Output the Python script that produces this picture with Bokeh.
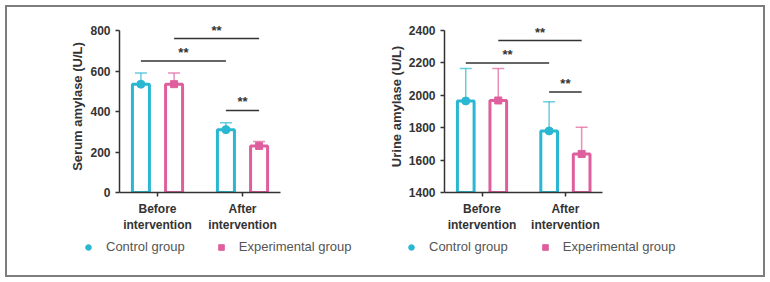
from bokeh.plotting import figure
from bokeh.layouts import row, column
from bokeh.models import (ColumnDataSource, Whisker, TeeHead, Legend, LegendItem,
                          FixedTicker, Range1d)
from bokeh.core.properties import value
from bokeh.embed import file_html
from bokeh.resources import INLINE

# ---------------- data ----------------
categories = ["Before\nintervention", "After\nintervention"]
groups = ["Control group", "Experimental group"]

serum_control = [535, 310]
serum_control_sd = [55, 35]
serum_exp = [535, 230]
serum_exp_sd = [55, 22]
serum_sig_y = [650, 760, 405]

urine_control = [1965, 1780]
urine_control_sd = [200, 180]
urine_exp = [1968, 1638]
urine_exp_sd = [198, 165]
urine_sig_y = [2200, 2338, 2020]

sig_text = ["**", "**", "**"]

CYAN = "#2ab7d2"
PINK = "#df5f9d"
DARK = "#333333"
FONT = "Liberation Sans"


def make_plot(ylabel, ctrl, ctrl_sd, exp, exp_sd, sig_y, ymin, ymax, yend, yticks,
              x_lo, x_hi, width, bl, br):
    p = figure(width=width, height=228, output_backend="svg", toolbar_location=None,
               x_range=Range1d(x_lo, x_hi), y_range=Range1d(ymin, yend),
               min_border_left=bl, min_border_right=br, min_border_top=13,
               min_border_bottom=43, background_fill_color="white",
               border_fill_color="white", outline_line_color=None,
               frame_align=False)
    p.grid.visible = False

    off = 0.195
    xs = list(range(len(categories)))
    xc = [x - off for x in xs]
    xe = [x + off for x in xs]
    bw = 0.2

    src_c = ColumnDataSource(dict(x=xc, top=ctrl, up=[m + s for m, s in zip(ctrl, ctrl_sd)],
                                  lo=[m - s for m, s in zip(ctrl, ctrl_sd)]))
    src_e = ColumnDataSource(dict(x=xe, top=exp, up=[m + s for m, s in zip(exp, exp_sd)],
                                  lo=[m - s for m, s in zip(exp, exp_sd)]))

    p.vbar(x="x", top="top", bottom=ymin, width=bw, source=src_c,
           fill_color="white", line_color=CYAN, line_width=3)
    p.vbar(x="x", top="top", bottom=ymin, width=bw, source=src_e,
           fill_color="white", line_color=PINK, line_width=3)

    for src, col in ((src_c, CYAN), (src_e, PINK)):
        w = Whisker(base="x", upper="up", lower="lo", source=src,
                    line_color=col, line_width=1.5, line_alpha=0.7,
                    upper_head=TeeHead(size=12, line_color=col, line_width=1.5, line_alpha=0.7),
                    lower_head=TeeHead(size=12, line_color=col, line_width=1.5, line_alpha=0.7))
        p.add_layout(w)

    p.scatter(x="x", y="top", source=src_c, marker="circle", size=8,
              fill_color=CYAN, line_color=CYAN)
    p.scatter(x="x", y="top", source=src_e, marker="square", size=7,
              fill_color=PINK, line_color=PINK)

    # significance brackets: control before->after, exp before->after, control vs exp after
    pairs = [(xc[0], xc[1]), (xe[0], xe[1]), (xc[1], xe[1])]
    x0 = [a for a, b in pairs]
    x1 = [b for a, b in pairs]
    p.segment(x0=x0, y0=sig_y, x1=x1, y1=sig_y, line_color=DARK, line_width=1.5)
    p.text(x=[(a + b) / 2 for a, b in pairs], y=sig_y, text=sig_text,
           text_align="center", text_baseline="bottom", y_offset=-1,
           text_font=value(FONT), text_font_size="13px", text_font_style="bold",
           text_color=DARK)

    # axes
    ya = p.yaxis[0]
    ya.bounds = (ymin, ymax)
    ya.ticker = FixedTicker(ticks=yticks)
    ya.axis_label = ylabel
    ya.axis_label_text_font = FONT
    ya.axis_label_text_font_size = "13px"
    ya.axis_label_text_font_style = "bold"
    ya.axis_label_text_color = DARK
    ya.axis_label_standoff = 2
    ya.minor_tick_line_color = None

    xa = p.xaxis[0]
    xa.ticker = FixedTicker(ticks=xs)
    xa.major_label_overrides = {i: c for i, c in enumerate(categories)}
    xa.minor_tick_line_color = None
    xa.major_label_standoff = 5

    for ax in (xa, ya):
        ax.axis_line_color = DARK
        ax.axis_line_width = 1.5
        ax.major_tick_line_color = DARK
        ax.major_tick_line_width = 1.5
        ax.major_tick_out = 4
        ax.major_tick_in = 0
        ax.major_label_text_font = FONT
        ax.major_label_text_font_size = "12px"
        ax.major_label_text_font_style = "bold"
        ax.major_label_text_color = DARK
    return p


def make_legend(width, legend_x, spacing):
    f = figure(width=width, height=40, output_backend="svg", toolbar_location=None,
               x_axis_location=None, y_axis_location=None, min_border=0,
               x_range=Range1d(0, 1), y_range=Range1d(0, 1),
               outline_line_color=None, background_fill_color="white",
               border_fill_color="white", frame_align=False)
    f.grid.visible = False
    # off-range points: only used so that the legend draws its marker glyphs
    rc = f.scatter(x=[-10], y=[-10], marker="circle", size=7, fill_color=CYAN, line_color=CYAN)
    re = f.scatter(x=[-10], y=[-10], marker="square", size=7, fill_color=PINK, line_color=PINK)
    legend = Legend(items=[LegendItem(label=groups[0], renderers=[rc]),
                           LegendItem(label=groups[1], renderers=[re])],
                    orientation="horizontal", location=(legend_x, 21),
                    glyph_width=14, glyph_height=14, label_standoff=11,
                    spacing=spacing, padding=0, margin=0,
                    border_line_color=None, background_fill_alpha=0,
                    label_text_font=FONT, label_text_font_size="13px",
                    label_text_color="#555555")
    f.add_layout(legend)
    return f


p1 = make_plot("Serum amylase (U/L)", serum_control, serum_control_sd, serum_exp,
               serum_exp_sd, serum_sig_y, 0, 800, 800 * 172 / 162, [0, 200, 400, 600, 800],
               -0.447, 1.447, 378, 112, 105)
p2 = make_plot("Urine amylase (U/L)", urine_control, urine_control_sd, urine_exp,
               urine_exp_sd, urine_sig_y, 1400, 2400, 1400 + 1000 * 172 / 162,
               [1400, 1600, 1800, 2000, 2200, 2400],
               -0.45, 1.445, 378, 57, 161)
l1 = make_legend(378, 74, 29)
l2 = make_legend(378, 19, 30)

layout = row(column(p1, l1), column(p2, l2),
             styles={"border": "2px solid #7d7d7d"}, margin=(5, 0, 0, 5))

open("out.html", "w").write(file_html(layout, INLINE))
